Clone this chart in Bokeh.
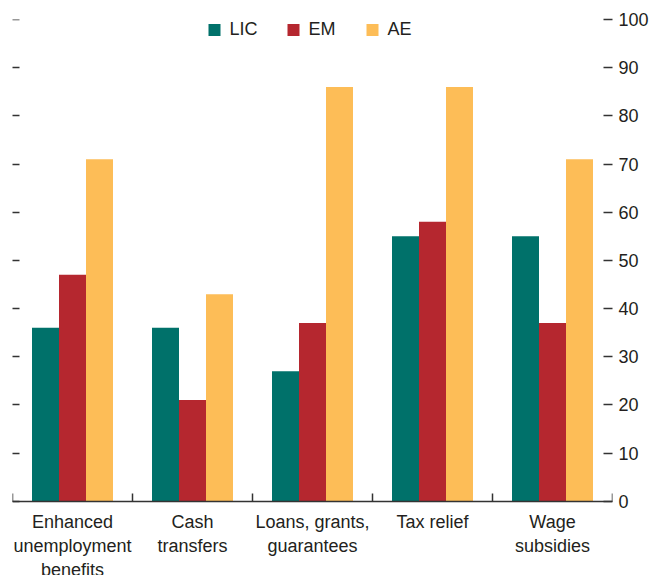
from bokeh.plotting import figure
from bokeh.models import Range1d, LinearAxis, FixedTicker, CustomJSTickFormatter, ColumnDataSource
from bokeh.embed import file_html
from bokeh.resources import INLINE

# ---- data ----
categories = ["Enhanced\nunemployment\nbenefits", "Cash\ntransfers",
              "Loans, grants,\nguarantees", "Tax relief", "Wage\nsubsidies"]
series_names = ["LIC", "EM", "AE"]
lic = [36, 36, 27, 55, 55]
em = [47, 21, 37, 58, 37]
ae = [71, 43, 86, 86, 71]
y_ticks = [0, 10, 20, 30, 40, 50, 60, 70, 80, 90, 100]
colors = ["#00716A", "#B5272F", "#FDBD57"]

FONT = "Liberation Sans"
TXT = "#231F20"
TICK = "#333333"

n = len(categories)
centers = [i + 0.5 for i in range(n)]
bounds = [float(i) for i in range(n + 1)]
bar_w = 0.225

p = figure(frame_width=600, frame_height=556,
           x_range=Range1d(0, n), y_range=Range1d(-15.4, 100),
           output_backend="svg", toolbar_location=None,
           x_axis_type=None, y_axis_type=None,
           min_border_left=12, min_border_top=19, min_border_bottom=0, min_border_right=0)
p.outline_line_color = None
p.grid.visible = False
p.background_fill_color = "white"
p.border_fill_color = "white"

values = [lic, em, ae]
offsets = [-bar_w, 0.0, bar_w]
for name, vals, off, col in zip(series_names, values, offsets, colors):
    src = ColumnDataSource(dict(x=[c + off for c in centers], top=vals))
    p.vbar(x="x", top="top", bottom=0, width=bar_w, source=src,
           fill_color=col, line_color=None, legend_label=name)

# x axis fixed at y = 0
xaxis = LinearAxis(fixed_location=0,
                   ticker=FixedTicker(ticks=centers, minor_ticks=bounds),
                   formatter=CustomJSTickFormatter(args=dict(labels=categories),
                                                   code="return labels[index]"))
xaxis.major_tick_line_color = None
xaxis.minor_tick_in = 8
xaxis.minor_tick_out = 0
xaxis.minor_tick_line_color = TICK
xaxis.minor_tick_line_width = 1.5
xaxis.axis_line_color = TICK
xaxis.axis_line_width = 1.5
xaxis.major_label_standoff = 5
xaxis.major_label_text_font = FONT
xaxis.major_label_text_font_size = "18px"
xaxis.major_label_text_color = TXT
xaxis.major_label_text_line_height = 1.2
p.add_layout(xaxis, "below")

# left axis: ticks only
laxis = LinearAxis(fixed_location=0, ticker=FixedTicker(ticks=y_ticks),
                   formatter=CustomJSTickFormatter(code="return ''"))
laxis.axis_line_color = None
laxis.major_tick_in = 7
laxis.major_tick_out = 1
laxis.major_tick_line_color = TICK
laxis.major_tick_line_width = 1.5
laxis.minor_tick_line_color = None
laxis.major_label_standoff = 0
p.add_layout(laxis, "left")

# right axis with labels
raxis = LinearAxis(ticker=FixedTicker(ticks=y_ticks))
raxis.axis_line_color = None
raxis.major_tick_in = 9
raxis.major_tick_out = 0
raxis.major_tick_line_color = TICK
raxis.major_tick_line_width = 1.5
raxis.minor_tick_line_color = None
raxis.major_label_standoff = 6
raxis.major_label_text_font = FONT
raxis.major_label_text_font_size = "18px"
raxis.major_label_text_color = TXT
p.add_layout(raxis, "right")

lg = p.legend[0]
lg.orientation = "horizontal"
lg.location = "top_center"
lg.border_line_color = None
lg.background_fill_alpha = 0
lg.margin = 0
lg.padding = 5
lg.glyph_width = 15
lg.glyph_height = 15
lg.label_standoff = 8
lg.label_width = 30
lg.spacing = 26
lg.label_text_font = FONT
lg.label_text_font_size = "18px"
lg.label_text_color = TXT

open("out.html", "w").write(file_html(p, INLINE))
